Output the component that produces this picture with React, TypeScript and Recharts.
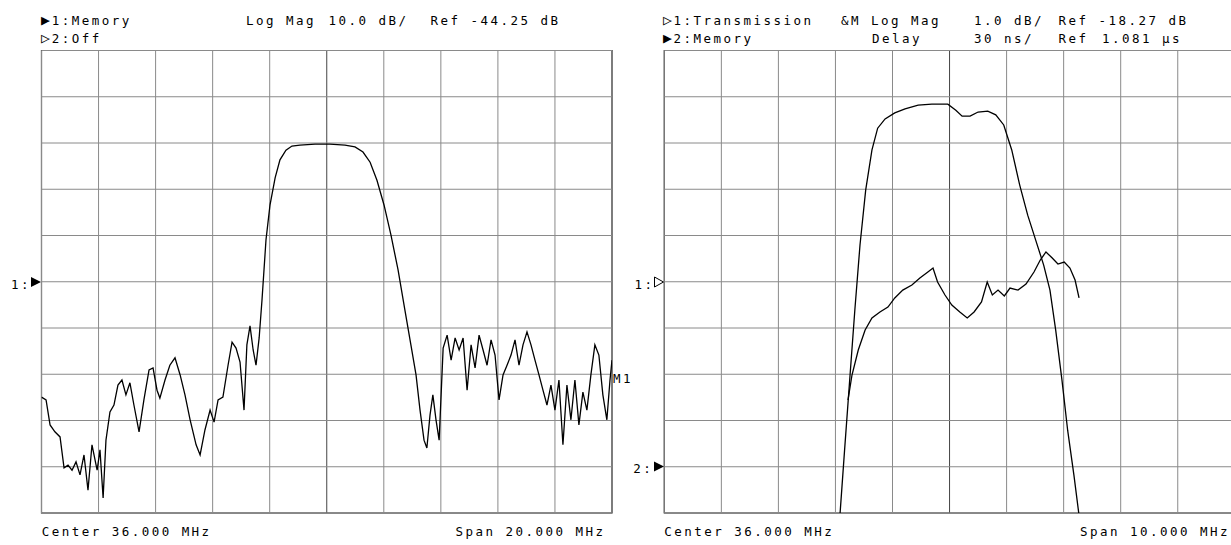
import { LineChart, Line, XAxis, YAxis, ReferenceArea, ReferenceLine } from 'recharts';

// left screen: channel 1 memory trace, 26..46 MHz, 10 dB/div
const leftFreqs = [
  26.0, 26.16, 26.3, 26.47, 26.65, 26.79, 26.93, 27.07, 27.21, 27.35,
  27.49, 27.63, 27.77, 27.95, 28.05, 28.16, 28.26, 28.4, 28.54, 28.68,
  28.82, 28.96, 29.1, 29.24, 29.42, 29.59, 29.77, 29.91, 30.05, 30.15,
  30.33, 30.5, 30.68, 30.86, 31.03, 31.21, 31.42, 31.56, 31.73, 31.91,
  32.05, 32.19, 32.36, 32.54, 32.68, 32.82, 32.96, 33.1, 33.2, 33.31,
  33.42, 33.52, 33.63, 33.73, 33.87, 34.01, 34.19, 34.36, 34.57, 34.78,
  35.06, 35.59, 36.11, 36.64, 36.99, 37.27, 37.52, 37.76, 38.01, 38.25,
  38.5, 38.74, 38.95, 39.13, 39.27, 39.41, 39.51, 39.62, 39.72, 39.83,
  39.94, 40.08, 40.22, 40.36, 40.5, 40.64, 40.78, 40.92, 41.06, 41.2,
  41.34, 41.48, 41.62, 41.76, 41.9, 42.04, 42.18, 42.32, 42.46, 42.6,
  42.74, 42.88, 43.02, 43.16, 43.3, 43.44, 43.58, 43.72, 43.86, 44.0,
  44.14, 44.28, 44.42, 44.56, 44.7, 44.84, 44.98, 45.12, 45.26, 45.4,
  45.54, 45.68, 45.82, 45.93, 46.0,
];
const leftDb = [
  -69.2, -69.8, -75.2, -76.7, -77.8, -84.5, -83.9, -85.0, -83.2, -86.0,
  -81.7, -89.3, -79.5, -85.0, -80.6, -91.0, -78.5, -72.4, -70.9, -66.6,
  -65.5, -68.7, -66.1, -70.9, -76.7, -69.8, -63.3, -62.9, -67.7, -69.4,
  -65.5, -62.3, -60.7, -64.4, -68.7, -74.1, -79.5, -81.7, -76.3, -72.0,
  -74.6, -69.8, -69.2, -62.3, -57.3, -58.6, -61.6, -72.0, -57.9, -53.8,
  -59.0, -62.3, -56.4, -48.2, -35.2, -27.7, -21.8, -17.9, -15.8, -14.9,
  -14.7, -14.5, -14.5, -14.7, -15.1, -16.2, -18.4, -22.3, -27.7, -34.1,
  -41.7, -50.4, -57.9, -64.4, -72.0, -78.5, -80.2, -73.1, -68.7, -74.1,
  -78.5, -58.6, -55.8, -61.2, -56.4, -59.0, -56.4, -67.7, -57.9, -62.9,
  -55.8, -59.0, -62.3, -56.8, -60.1, -69.8, -64.4, -62.3, -60.1, -56.8,
  -62.3, -57.9, -55.1, -57.9, -61.2, -64.4, -67.7, -70.9, -66.6, -72.0,
  -65.5, -79.5, -66.6, -74.1, -65.5, -75.2, -68.1, -72.0, -64.4, -57.9,
  -60.1, -68.7, -74.1, -65.5, -61.2,
];
const leftFreqTicks = [26, 28, 30, 32, 34, 36, 38, 40, 42, 44, 46];
const leftDbTicks = [5.75, -4.25, -14.25, -24.25, -34.25, -44.25, -54.25, -64.25, -74.25, -84.25, -94.25];

// right screen: transmission (1 dB/div) and delay memory (30 ns/div), 31..41 MHz
const transFreqs = [
  34.06, 34.16, 34.25, 34.34, 34.43, 34.53, 34.64, 34.74, 34.87, 35.04,
  35.22, 35.45, 35.69, 35.97, 36.11, 36.22, 36.36, 36.5, 36.67, 36.81,
  36.95, 37.09, 37.23, 37.37, 37.51, 37.65, 37.76, 37.86, 37.97, 38.07,
  38.18, 38.28,
];
const transDb = [
  -23.64, -21.91, -20.39, -18.88, -17.48, -16.29, -15.42, -14.95, -14.75, -14.62,
  -14.53, -14.45, -14.43, -14.43, -14.56, -14.69, -14.69, -14.6, -14.58, -14.66,
  -14.88, -15.42, -16.18, -16.83, -17.37, -17.91, -18.45, -19.31, -20.39, -21.48,
  -22.45, -23.42,
];
const delayFreqs = [
  34.22, 34.29, 34.4, 34.52, 34.64, 34.78, 34.92, 35.04, 35.18, 35.34,
  35.48, 35.62, 35.71, 35.79, 35.92, 36.04, 36.18, 36.31, 36.43, 36.56,
  36.66, 36.75, 36.85, 36.96, 37.06, 37.2, 37.34, 37.48, 37.59, 37.69,
  37.8, 37.9, 38.01, 38.11, 38.2, 38.27,
];
const delayNs = [
  1124.3, 1140.5, 1156.7, 1169.7, 1177.5, 1181.4, 1184.6, 1190.5, 1195.6, 1198.9,
  1203.4, 1207.3, 1209.9, 1200.8, 1192.4, 1185.9, 1181.4, 1177.5, 1181.4, 1187.9,
  1200.8, 1192.4, 1195.6, 1191.8, 1196.9, 1195.6, 1199.5, 1207.3, 1215.1, 1220.3,
  1216.4, 1212.5, 1213.8, 1209.9, 1202.1, 1190.5,
];
const rightFreqTicks = [31, 32, 33, 34, 35, 36, 37, 38, 39, 40, 41];
const rightDbTicks = [-13.27, -14.27, -15.27, -16.27, -17.27, -18.27, -19.27, -20.27, -21.27, -22.27, -23.27];

const leftData = leftFreqs.map((f, i) => ({ f, db: leftDb[i] }));
const transData = transFreqs.map((f, i) => ({ f, db: transDb[i] }));
const delayData = delayFreqs.map((f, i) => ({ f, ns: delayNs[i] }));

const FONT = '"DejaVu Sans Mono", monospace';
const GRID = '#8a8a8a';
const txt = { fontFamily: FONT, fontSize: 12.5, letterSpacing: 2.47, fill: '#000' } as const;
const tri = { fontSize: 15, letterSpacing: 0 } as const;

const LeftScreen = () => (
  <LineChart width={620} height={545} data={leftData} margin={{ top: 50.5, right: 8, bottom: 32, left: 41.5 }}>
    <XAxis dataKey="f" type="number" domain={[26, 46]} allowDataOverflow hide />
    <YAxis type="number" domain={[-94.25, 5.75]} allowDataOverflow hide />
    {leftFreqTicks.map((x) => (
      <ReferenceLine key={`v${x}`} x={x} stroke={x === 36 ? '#444' : GRID} />
    ))}
    {leftDbTicks.map((y) => (
      <ReferenceLine key={`h${y}`} y={y} stroke={GRID} />
    ))}
    <ReferenceArea x1={26} x2={46} y1={-94.25} y2={5.75} fill="none" stroke="#111" strokeWidth={1.2} />
    <Line dataKey="db" type="linear" stroke="#000" strokeWidth={1.3} dot={false} activeDot={false} isAnimationActive={false} />
  </LineChart>
);

const RightScreen = () => (
  <LineChart width={620} height={545} margin={{ top: 50.5, right: 5.2, bottom: 32, left: 44.3 }}>
    <XAxis dataKey="f" type="number" domain={[31, 41]} allowDataOverflow hide />
    <YAxis yAxisId="db" type="number" domain={[-23.27, -13.27]} allowDataOverflow hide />
    <YAxis yAxisId="ns" type="number" domain={[1051, 1351]} allowDataOverflow hide />
    {rightFreqTicks.map((x) => (
      <ReferenceLine key={`v${x}`} yAxisId="db" x={x} stroke={x === 36 ? '#444' : GRID} />
    ))}
    {rightDbTicks.map((y) => (
      <ReferenceLine key={`h${y}`} yAxisId="db" y={y} stroke={GRID} />
    ))}
    <ReferenceArea yAxisId="db" x1={31} x2={41} y1={-23.27} y2={-13.27} fill="none" stroke="#111" strokeWidth={1.2} />
    <Line yAxisId="db" data={transData} dataKey="db" type="linear" stroke="#000" strokeWidth={1.3}
      dot={false} activeDot={false} isAnimationActive={false} />
    <Line yAxisId="ns" data={delayData} dataKey="ns" type="linear" stroke="#000" strokeWidth={1.3}
      dot={false} activeDot={false} isAnimationActive={false} />
  </LineChart>
);

export default function App() {
  return (
    <div style={{ position: 'absolute', left: 0, top: 0, width: 1231, height: 545, overflow: 'hidden', background: '#fff' }}>
      <div style={{ position: 'absolute', left: 0, top: 0 }}>
        <LeftScreen />
      </div>
      <div style={{ position: 'absolute', left: 620, top: 0 }}>
        <RightScreen />
      </div>
      <svg width={1231} height={545} style={{ position: 'absolute', left: 0, top: 0, pointerEvents: 'none' }}>
        {/* left screen annotations */}
        <text x={41} y={24.5} style={txt}><tspan style={tri}>▶</tspan><tspan x={51.7}>1:Memory</tspan></text>
        <text x={246} y={24.5} style={txt}>Log Mag</text>
        <text x={328.6} y={24.5} style={txt}>10.0 dB/</text>
        <text x={430.5} y={24.5} style={txt}>Ref -44.25 dB</text>
        <text x={41} y={43} style={txt}><tspan style={tri}>▷</tspan><tspan x={51.7}>2:Off</tspan></text>
        <text x={41.7} y={535.5} style={txt}>Center 36.000 MHz</text>
        <text x={455.5} y={535.5} style={txt}>Span 20.000 MHz</text>
        <text x={11} y={288.5} style={txt}>1:</text>
        <polygon points="31,277 41,282 31,287" fill="#000" />
        <text x={613} y={383} style={txt}>M1</text>

        {/* right screen annotations */}
        <text x={663} y={24.5} style={txt}><tspan style={tri}>▷</tspan><tspan x={673.6}>1:Transmission</tspan></text>
        <text x={841} y={24.5} style={txt}>&amp;M Log Mag</text>
        <text x={974} y={24.5} style={txt}>1.0 dB/</text>
        <text x={1058.5} y={24.5} style={txt}>Ref -18.27 dB</text>
        <text x={663} y={43} style={txt}><tspan style={tri}>▶</tspan><tspan x={673.6}>2:Memory</tspan></text>
        <text x={872} y={43} style={txt}>Delay</text>
        <text x={974} y={43} style={txt}>30 ns/</text>
        <text x={1058.5} y={43} style={txt}>Ref</text>
        <text x={1102} y={43} style={txt}>1.081 µs</text>
        <text x={664.3} y={535.5} style={txt}>Center 36.000 MHz</text>
        <text x={1080} y={535.5} style={txt}>Span 10.000 MHz</text>
        <text x={634.5} y={288.5} style={txt}>1:</text>
        <polygon points="654.5,277 663.5,282 654.5,287" fill="#fff" stroke="#000" strokeWidth={1} />
        <text x={633.3} y={473} style={txt}>2:</text>
        <polygon points="654,461.5 664,466.5 654,471.5" fill="#000" />
      </svg>
    </div>
  );
}
